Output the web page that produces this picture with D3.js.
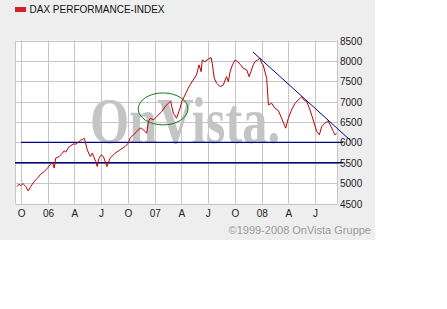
<!DOCTYPE html>
<html>
<head>
<meta charset="utf-8">
<script src="https://cdn.jsdelivr.net/npm/d3@7"></script>
<style>
  html, body { margin: 0; padding: 0; background: #fff; }
  svg { display: block; }
</style>
</head>
<body>
<div id="chart"></div>
<script>
// DAX, 3 years
const dates = [
  "2005-09-17","2005-09-24","2005-09-30","2005-10-07","2005-10-17","2005-10-25","2005-11-03","2005-11-14",
  "2005-11-26","2005-12-07","2005-12-19","2005-12-30","2006-01-08","2006-01-16","2006-01-22","2006-01-27",
  "2006-02-08","2006-02-19","2006-02-25","2006-03-03","2006-03-10","2006-03-20","2006-03-29","2006-04-06",
  "2006-04-17","2006-04-23","2006-04-28","2006-05-04","2006-05-07","2006-05-15","2006-05-25","2006-06-01",
  "2006-06-13","2006-06-18","2006-06-24","2006-07-02","2006-07-09","2006-07-21","2006-08-01","2006-08-18",
  "2006-09-04","2006-09-21","2006-10-02","2006-10-08","2006-10-14","2006-10-25","2006-10-31","2006-11-11",
  "2006-11-17","2006-12-04","2006-12-10","2006-12-16","2006-12-27","2007-01-07","2007-01-24","2007-02-05",
  "2007-02-16","2007-02-24","2007-03-05","2007-03-16","2007-03-28","2007-04-03","2007-04-14","2007-04-25",
  "2007-05-01","2007-05-12","2007-05-23","2007-06-01","2007-06-08","2007-06-12","2007-06-21","2007-07-03",
  "2007-07-12","2007-07-16","2007-07-23","2007-07-31","2007-08-12","2007-08-23","2007-08-29","2007-09-03",
  "2007-09-09","2007-09-15","2007-09-23","2007-10-02","2007-10-11","2007-10-19","2007-10-30","2007-11-11",
  "2007-11-19","2007-11-25","2007-12-03","2007-12-09","2007-12-18","2007-12-26","2008-01-01","2008-01-06",
  "2008-01-18","2008-01-24","2008-02-04","2008-02-15","2008-02-27","2008-03-09","2008-03-23","2008-04-01",
  "2008-04-12","2008-04-24","2008-05-05","2008-05-17","2008-05-24","2008-06-03","2008-06-14","2008-06-25",
  "2008-07-07","2008-07-16","2008-07-24","2008-08-04","2008-08-15","2008-08-25","2008-09-02","2008-09-07",
  "2008-09-13"
];
const values = [
  4917,4975,4934,4990,4917,4811,4917,5039,
  5122,5221,5284,5368,5448,5515,5368,5613,
  5652,5735,5792,5760,5858,5922,5963,5956,
  6020,6061,6061,6103,6044,5816,5652,5735,
  5529,5407,5613,5694,5652,5407,5613,5735,
  5816,5897,5980,6103,6142,6225,6265,6348,
  6348,6225,6510,6593,6551,6632,6755,6877,
  6961,7000,6716,6593,6838,7000,7164,7328,
  7409,7532,7654,7900,7735,8022,7980,8047,
  8078,7941,7574,7451,7368,7409,7532,7613,
  7490,7735,7900,8022,7980,7917,7819,7777,
  7613,7735,7900,7980,8022,8064,7941,7900,
  7574,6919,6961,6838,6779,6593,6348,6593,
  6797,6961,7042,7123,7042,7000,6797,6551,
  6265,6184,6387,6470,6527,6387,6265,6184,
  6225
];

const tickDates = ["2005-10-01","2006-01-01","2006-04-01","2006-07-01","2006-10-01","2007-01-01",
                   "2007-04-01","2007-07-01","2007-10-01","2008-01-01","2008-04-01","2008-07-01"];
const tickLabels = ["O","06","A","J","O","07","A","J","O","08","A","J"];
const yTicks = [4500, 5000, 5500, 6000, 6500, 7000, 7500, 8000, 8500];

// hand drawn annotations
const trendDates = ["2007-12-02", "2008-11-01"];
const trendValues = [8218, 6037];
const supportLevels = [6000, 5500];
const supportStart = ["2005-10-01", "2005-09-10"];
const supportEnd = ["2008-10-05", "2008-10-05"];
const circleCenter = ["2007-01-29", 6821];
const circleHalfDays = 85;
const circleHalfValue = 392;

const W = 447, H = 309;
const parse = d3.utcParse("%Y-%m-%d");

const svg = d3.select("#chart").append("svg")
    .attr("width", W)
    .attr("height", H);

svg.append("rect")
    .attr("x", 0).attr("y", 0)
    .attr("width", 375).attr("height", 240)
    .attr("fill", "#eeeeee");

const x = d3.scaleUtc()
    .domain([parse("2005-09-10"), parse("2008-09-16")])
    .range([15, 337.5]);
const y = d3.scaleLinear()
    .domain([4500, 8500])
    .range([203.5, 40.5]);

svg.append("rect")
    .attr("x", 15.5).attr("y", 40.5)
    .attr("width", 322).attr("height", 163)
    .attr("fill", "#fff");

// grid
const grid = svg.append("g").attr("stroke", "#c6c6c6").attr("stroke-width", 1);
grid.selectAll("line.h").data(yTicks).join("line")
    .attr("class", "h")
    .attr("x1", 15.5).attr("x2", 337.5)
    .attr("y1", d => Math.round(y(d)) + 0.5)
    .attr("y2", d => Math.round(y(d)) + 0.5);
grid.selectAll("line.v").data(tickDates).join("line")
    .attr("class", "v")
    .attr("x1", d => Math.round(x(parse(d))) + 0.5)
    .attr("x2", d => Math.round(x(parse(d))) + 0.5)
    .attr("y1", 40.5).attr("y2", 203.5);
grid.append("line").attr("x1", 15.5).attr("x2", 15.5).attr("y1", 40.5).attr("y2", 203.5);
grid.append("line").attr("x1", 337.5).attr("x2", 337.5).attr("y1", 40.5).attr("y2", 203.5);

// watermark
svg.append("text")
    .attr("x", 90).attr("y", 143)
    .attr("textLength", 190)
    .attr("lengthAdjust", "spacingAndGlyphs")
    .attr("font-family", "'Liberation Serif', 'Times New Roman', serif")
    .attr("font-weight", "bold")
    .attr("font-size", 66)
    .attr("fill", "#c4c4c4")
    .text("OnVista.");

// support lines
svg.selectAll("line.support").data(supportLevels).join("line")
    .attr("class", "support")
    .attr("x1", (d, i) => x(parse(supportStart[i])))
    .attr("x2", (d, i) => x(parse(supportEnd[i])))
    .attr("y1", d => y(d)).attr("y2", d => y(d))
    .attr("stroke", "#000080")
    .attr("stroke-width", 1.4);

// price line
const series = dates.map((d, i) => ({date: parse(d), value: values[i]}));
const line = d3.line()
    .x(d => x(d.date))
    .y(d => y(d.value));
svg.append("path")
    .datum(series)
    .attr("d", line)
    .attr("fill", "none")
    .attr("stroke", "#c00000")
    .attr("stroke-width", 1)
    .attr("stroke-linejoin", "round");

// trend line
svg.append("line")
    .attr("x1", x(parse(trendDates[0]))).attr("y1", y(trendValues[0]))
    .attr("x2", x(parse(trendDates[1]))).attr("y2", y(trendValues[1]))
    .attr("stroke", "#000080")
    .attr("stroke-width", 1);

// ellipse
const cDate = parse(circleCenter[0]);
const cx = x(cDate);
const rx = x(d3.utcDay.offset(cDate, circleHalfDays)) - cx;
const cy = y(circleCenter[1]);
const ry = cy - y(circleCenter[1] + circleHalfValue);
svg.append("ellipse")
    .attr("cx", cx).attr("cy", cy)
    .attr("rx", rx).attr("ry", ry)
    .attr("fill", "none")
    .attr("stroke", "#1a7a1a")
    .attr("stroke-width", 1);

// axis labels
const font = "'Liberation Sans', Arial, sans-serif";
svg.selectAll("text.ylab").data(yTicks).join("text")
    .attr("class", "ylab")
    .attr("x", 340)
    .attr("y", d => y(d) + 4)
    .attr("font-family", font)
    .attr("font-size", 10)
    .attr("fill", "#222")
    .text(d => d);
svg.selectAll("text.xlab").data(tickDates).join("text")
    .attr("class", "xlab")
    .attr("x", d => x(parse(d)) + 0.5)
    .attr("y", 216.5)
    .attr("text-anchor", "middle")
    .attr("font-family", font)
    .attr("font-size", 10)
    .attr("fill", "#222")
    .text((d, i) => tickLabels[i]);

// legend
svg.append("rect")
    .attr("x", 15).attr("y", 7)
    .attr("width", 11).attr("height", 5)
    .attr("fill", "#d42020");
svg.append("text")
    .attr("x", 29.5).attr("y", 12.5)
    .attr("font-family", font)
    .attr("font-size", 10)
    .attr("fill", "#111")
    .text("DAX PERFORMANCE-INDEX");

// copyright
svg.append("text")
    .attr("x", 371).attr("y", 234)
    .attr("text-anchor", "end")
    .attr("font-family", font)
    .attr("font-size", 11)
    .attr("fill", "#9a9a9a")
    .text("©1999-2008 OnVista Gruppe");
</script>
</body>
</html>
